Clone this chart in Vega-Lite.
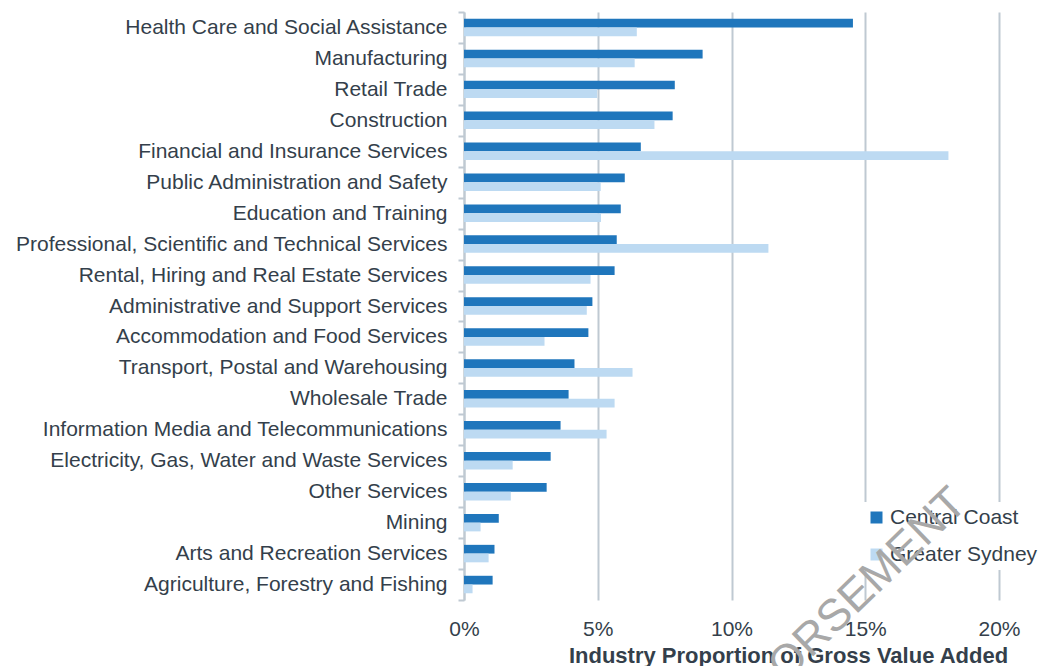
{
  "$schema": "https://vega.github.io/schema/vega-lite/v6.json",
  "width": 535,
  "height": 588,
  "autosize": {"type": "none"},
  "padding": {"left": 464, "top": 12, "right": 47, "bottom": 66},
  "background": "white",
  "config": {
    "view": {"stroke": null},
    "font": "Liberation Sans",
    "axis": {"labelFont": "Liberation Sans", "titleFont": "Liberation Sans"}
  },
  "title": {
    "text": "ORSEMENT",
    "orient": "top",
    "anchor": "end",
    "frame": "group",
    "offset": 0,
    "angle": -44,
    "align": "right",
    "baseline": "alphabetic",
    "fontSize": 45,
    "fontWeight": "normal",
    "font": "Liberation Sans",
    "color": "#A8A8A8",
    "dx": -518,
    "dy": 493
  },
  "data": {
    "values": [
      {"industry": "Health Care and Social Assistance", "region": "Central Coast", "share": 0.1454},
      {"industry": "Health Care and Social Assistance", "region": "Greater Sydney", "share": 0.0646},
      {"industry": "Manufacturing", "region": "Central Coast", "share": 0.0892},
      {"industry": "Manufacturing", "region": "Greater Sydney", "share": 0.0638},
      {"industry": "Retail Trade", "region": "Central Coast", "share": 0.0788},
      {"industry": "Retail Trade", "region": "Greater Sydney", "share": 0.0498},
      {"industry": "Construction", "region": "Central Coast", "share": 0.0780},
      {"industry": "Construction", "region": "Greater Sydney", "share": 0.0712},
      {"industry": "Financial and Insurance Services", "region": "Central Coast", "share": 0.0661},
      {"industry": "Financial and Insurance Services", "region": "Greater Sydney", "share": 0.1811},
      {"industry": "Public Administration and Safety", "region": "Central Coast", "share": 0.0601},
      {"industry": "Public Administration and Safety", "region": "Greater Sydney", "share": 0.0511},
      {"industry": "Education and Training", "region": "Central Coast", "share": 0.0586},
      {"industry": "Education and Training", "region": "Greater Sydney", "share": 0.0512},
      {"industry": "Professional, Scientific and Technical Services", "region": "Central Coast", "share": 0.0571},
      {"industry": "Professional, Scientific and Technical Services", "region": "Greater Sydney", "share": 0.1138},
      {"industry": "Rental, Hiring and Real Estate Services", "region": "Central Coast", "share": 0.0563},
      {"industry": "Rental, Hiring and Real Estate Services", "region": "Greater Sydney", "share": 0.0473},
      {"industry": "Administrative and Support Services", "region": "Central Coast", "share": 0.0480},
      {"industry": "Administrative and Support Services", "region": "Greater Sydney", "share": 0.0459},
      {"industry": "Accommodation and Food Services", "region": "Central Coast", "share": 0.0465},
      {"industry": "Accommodation and Food Services", "region": "Greater Sydney", "share": 0.0301},
      {"industry": "Transport, Postal and Warehousing", "region": "Central Coast", "share": 0.0413},
      {"industry": "Transport, Postal and Warehousing", "region": "Greater Sydney", "share": 0.0630},
      {"industry": "Wholesale Trade", "region": "Central Coast", "share": 0.0391},
      {"industry": "Wholesale Trade", "region": "Greater Sydney", "share": 0.0563},
      {"industry": "Information Media and Telecommunications", "region": "Central Coast", "share": 0.0361},
      {"industry": "Information Media and Telecommunications", "region": "Greater Sydney", "share": 0.0533},
      {"industry": "Electricity, Gas, Water and Waste Services", "region": "Central Coast", "share": 0.0324},
      {"industry": "Electricity, Gas, Water and Waste Services", "region": "Greater Sydney", "share": 0.0182},
      {"industry": "Other Services", "region": "Central Coast", "share": 0.0309},
      {"industry": "Other Services", "region": "Greater Sydney", "share": 0.0175},
      {"industry": "Mining", "region": "Central Coast", "share": 0.0130},
      {"industry": "Mining", "region": "Greater Sydney", "share": 0.0062},
      {"industry": "Arts and Recreation Services", "region": "Central Coast", "share": 0.0114},
      {"industry": "Arts and Recreation Services", "region": "Greater Sydney", "share": 0.0092},
      {"industry": "Agriculture, Forestry and Fishing", "region": "Central Coast", "share": 0.0107},
      {"industry": "Agriculture, Forestry and Fishing", "region": "Greater Sydney", "share": 0.0032}
    ]
  },
  "mark": {"type": "bar"},
  "encoding": {
    "y": {
      "field": "industry",
      "type": "nominal",
      "sort": null,
      "scale": {"paddingInner": 0, "paddingOuter": 0},
      "axis": {
        "title": null,
        "labelFontSize": 21,
        "labelColor": "#343F4B",
        "labelLimit": 0,
        "labelPadding": 11,
        "tickBand": "extent",
        "tickSize": 6,
        "tickColor": "#BFC9D2",
        "tickWidth": 2,
        "domainColor": "#BFC9D2",
        "domainWidth": 2,
        "grid": false
      }
    },
    "yOffset": {
      "field": "region",
      "type": "nominal",
      "scale": {"domain": ["Central Coast", "Greater Sydney"], "paddingInner": 0, "paddingOuter": 0.77}
    },
    "x": {
      "field": "share",
      "type": "quantitative",
      "scale": {"domain": [0, 0.2], "nice": false},
      "axis": {
        "title": "Industry Proportion of Gross Value Added",
        "titleFontSize": 22,
        "titleFontWeight": "bold",
        "titleColor": "#343F4B",
        "titleX": 324,
        "titleY": 62,
        "titleAlign": "center",
        "titleBaseline": "alphabetic",
        "values": [0, 0.05, 0.1, 0.15, 0.2],
        "format": ".0%",
        "labelFontSize": 21,
        "labelColor": "#343F4B",
        "labelPadding": 18,
        "labelFlush": false,
        "labelOverlap": false,
        "ticks": false,
        "domain": false,
        "grid": true,
        "gridColor": "#BFC9D2",
        "gridWidth": 2
      }
    },
    "color": {
      "field": "region",
      "type": "nominal",
      "scale": {"domain": ["Central Coast", "Greater Sydney"], "range": ["#1F76BC", "#BDDAF2"]},
      "legend": {
        "title": null,
        "orient": "none",
        "legendX": 397,
        "legendY": 490,
        "padding": 5,
        "fillColor": "white",
        "symbolType": "square",
        "symbolSize": 144,
        "symbolStrokeWidth": 0,
        "symbolOpacity": 1,
        "labelFontSize": 21,
        "labelColor": "#343F4B",
        "labelOffset": 3,
        "rowPadding": 15,
        "labelLimit": 0
      }
    }
  }
}
